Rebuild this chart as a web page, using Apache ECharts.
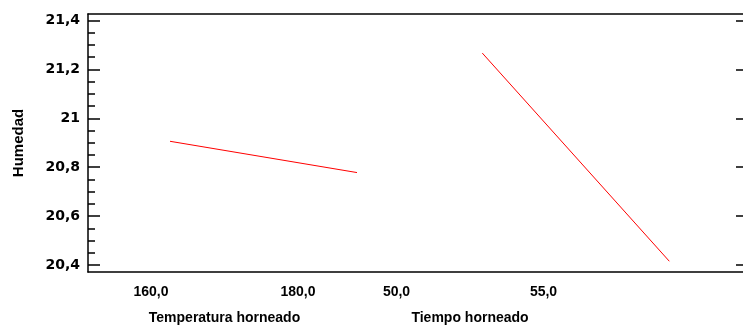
<!DOCTYPE html>
<html>
<head>
<meta charset="utf-8">
<script src="https://cdn.jsdelivr.net/npm/echarts@6/dist/echarts.min.js"></script>
<style>html,body{margin:0;padding:0;background:#fff}#c{width:743px;height:326px}</style>
</head>
<body>
<div id="c"></div>
<script>
// Factors and their levels
var factorNames = ['Temperatura horneado', 'Tiempo horneado'];
var levelLabels = ['160,0', '180,0', '50,0', '55,0'];
// Position of each level along the shared factor axis
var levelPos = [0, 1, 1.67, 2.67];
// Main effect means (Humedad)
var temperaturaMeans = [20.906, 20.778];
var tiempoMeans = [21.267, 20.415];
var yTicks = [20.4, 20.6, 20.8, 21, 21.2, 21.4];
var yMinorTicks = [20.45, 20.5, 20.55, 20.65, 20.7, 20.75, 20.85, 20.9, 20.95, 21.05, 21.1, 21.15, 21.25, 21.3, 21.35];

var YMIN = 20.371, YMAX = 21.427;
var font = 'Liberation Sans, Arial, sans-serif';
var factorMid = [(levelPos[0] + levelPos[1]) / 2, (levelPos[2] + levelPos[3]) / 2];

function fmtY(v) {
  var s = (Math.round(v * 10) / 10).toString();
  return s.replace('.', ',');
}

var chart = echarts.init(document.getElementById('c'));
chart.setOption({
  animation: false,
  backgroundColor: '#fff',
  grid: { left: 88, top: 14, right: -1, bottom: 54, containLabel: false },
  xAxis: [
    { // data axis
      type: 'value', min: -0.4385, max: 3.064, position: 'bottom',
      axisLine: { show: true, onZero: false, lineStyle: { color: '#000', width: 1.5 } },
      axisTick: { show: false }, axisLabel: { show: false }, splitLine: { show: false }
    },
    { // level labels axis
      type: 'value', min: -0.4286, max: 4.027, position: 'bottom',
      axisLine: { show: false, onZero: false }, axisTick: { show: false }, splitLine: { show: false },
      axisLabel: {
        show: true, customValues: levelPos, margin: 13,
        fontFamily: font, fontWeight: 'bold', fontSize: 14, color: '#000',
        formatter: function (v) { var i = levelPos.indexOf(v); return i >= 0 ? levelLabels[i] : ''; }
      }
    },
    { // factor names axis
      type: 'value', min: -0.4286, max: 4.027, position: 'bottom', offset: 26,
      axisLine: { show: false, onZero: false }, axisTick: { show: false }, splitLine: { show: false },
      axisLabel: {
        show: true, customValues: factorMid, margin: 13,
        fontFamily: font, fontWeight: 'bold', fontSize: 14, color: '#000',
        formatter: function (v) { var i = factorMid.indexOf(v); return i >= 0 ? factorNames[i] : ''; }
      }
    },
    { // top border
      type: 'value', min: 0, max: 1, position: 'top',
      axisLine: { show: true, onZero: false, lineStyle: { color: '#000', width: 1.5 } },
      axisTick: { show: false }, axisLabel: { show: false }, splitLine: { show: false }
    }
  ],
  yAxis: [
    {
      type: 'value', min: YMIN, max: YMAX, position: 'left',
      name: 'Humedad', nameLocation: 'middle', nameGap: 62, nameRotate: 90,
      nameTextStyle: { fontFamily: font, fontWeight: 'bold', fontSize: 15, color: '#000' },
      axisLine: { show: true, onZero: false, lineStyle: { color: '#000', width: 1.5 } },
      axisTick: { show: true, inside: true, length: 12, customValues: yTicks, lineStyle: { color: '#000', width: 1.5 } },
      axisLabel: { show: true, customValues: yTicks, margin: 8, formatter: fmtY,
        fontFamily: 'DejaVu Sans, sans-serif', fontWeight: 'bold', fontSize: 14, color: '#000' },
      splitLine: { show: false }
    },
    { // minor ticks on left
      type: 'value', min: YMIN, max: YMAX, position: 'left',
      axisLine: { show: false, onZero: false },
      axisTick: { show: true, inside: true, length: 7, customValues: yMinorTicks, lineStyle: { color: '#000', width: 1.5 } },
      axisLabel: { show: false }, splitLine: { show: false }
    },
    { // right side ticks
      type: 'value', min: YMIN, max: YMAX, position: 'right',
      axisLine: { show: false, onZero: false },
      axisTick: { show: true, inside: true, length: 7, customValues: yTicks, lineStyle: { color: '#000', width: 1.5 } },
      axisLabel: { show: false }, splitLine: { show: false }
    }
  ],
  series: [
    {
      type: 'line', xAxisIndex: 0, yAxisIndex: 0, symbol: 'none',
      lineStyle: { color: '#ff0000', width: 1 },
      data: [[levelPos[0], temperaturaMeans[0]], [levelPos[1], temperaturaMeans[1]]]
    },
    {
      type: 'line', xAxisIndex: 0, yAxisIndex: 0, symbol: 'none',
      lineStyle: { color: '#ff0000', width: 1 },
      data: [[levelPos[2], tiempoMeans[0]], [levelPos[3], tiempoMeans[1]]]
    }
  ]
});
</script>
</body>
</html>
